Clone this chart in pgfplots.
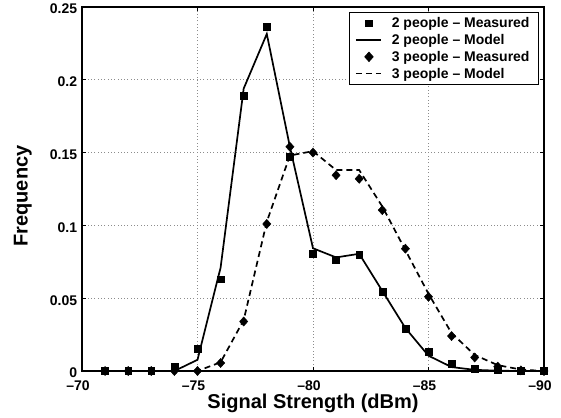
\documentclass[border=0pt]{standalone}
\usepackage{fontspec}
\setmainfont{Liberation Sans}
\usepackage{pgfplots}
\pgfplotsset{compat=1.18}
\usepackage{pgfplotstable}

\pgfplotstableread{
x y
-71 0
-72 0
-73 0
-74 0.003
-75 0.0153
-76 0.063
-77 0.189
-78 0.2365
-79 0.147
-80 0.0803
-81 0.0767
-82 0.0797
-83 0.0543
-84 0.0288
-85 0.0134
-86 0.005
-87 0.0014
-88 0.0005
-89 0.0002
-90 0
}\twomeas

\pgfplotstableread{
x y
-71 0
-72 0
-73 0
-74 0
-75 0.0077
-76 0.071
-77 0.194
-78 0.2315
-79 0.154
-80 0.0843
-81 0.078
-82 0.0805
-83 0.055
-84 0.0295
-85 0.0105
-86 0.0027
-87 0.0008
-88 0.0002
-89 0
-90 0
}\twomodel

\pgfplotstableread{
x y
-71 0
-72 0
-73 0
-74 0
-75 0
-76 0.0055
-77 0.034
-78 0.101
-79 0.154
-80 0.150
-81 0.1345
-82 0.132
-83 0.1105
-84 0.084
-85 0.051
-86 0.024
-87 0.0093
-88 0.003
-89 0.0004
-90 0
}\threemeas

\pgfplotstableread{
x y
-71 0
-72 0
-73 0
-74 0
-75 0
-76 0.006
-77 0.035
-78 0.1025
-79 0.148
-80 0.151
-81 0.138
-82 0.138
-83 0.113
-84 0.083
-85 0.053
-86 0.026
-87 0.011
-88 0.004
-89 0.001
-90 0
}\threemodel

\begin{document}
\begin{tikzpicture}
\useasboundingbox (-82pt,-46pt) rectangle (479pt,371pt);
\begin{axis}[
  at={(0,0)}, anchor=south west,
  scale only axis, width=462pt, height=364pt,
  x dir=reverse,
  xmin=-90, xmax=-70, ymin=0, ymax=0.25,
  xtick={-70,-75,-80,-85,-90},
  xticklabels={–70,–75,–80,–85,–90},
  ytick={0,0.05,0.1,0.15,0.2,0.25},
  yticklabels={0,0.05,0.1,0.15,0.2,0.25},
  tick pos=both, tick align=inside, major tick length=4pt,
  tick style={line width=0.8pt, black},
  axis line style={line width=1.4pt},
  grid=major,
  major grid style={line width=0.7pt, gray!90, dash pattern=on 0.7pt off 2.6pt},
  ticklabel style={font=\bfseries\fontsize{14}{14}\selectfont, inner sep=0pt},
  xticklabel style={yshift=-9.4pt, xshift=-4pt},
  yticklabel style={xshift=-4.7pt, yshift=-2pt},
  xlabel={Signal Strength (dBm)},
  label style={font=\bfseries\fontsize{20}{20}\selectfont, inner sep=0pt},
  xlabel style={at={(rel axis cs:0.5,0)}, anchor=base, yshift=-37pt},
  legend image code/.code={\draw[mark repeat=2,mark phase=2] plot coordinates {(0pt,0pt)(13pt,0pt)(25pt,0pt)};},
  legend style={at={(rel axis cs:1,1)}, anchor=north east, xshift=-5.3pt, yshift=-5pt,
    draw=black, line width=0.9pt, inner xsep=5.3pt, inner ysep=4pt,
    font=\bfseries\fontsize{14}{14}\selectfont,
    nodes={inner sep=0pt, text height=11.5pt, text depth=2.5pt},
    row sep=2.7pt, column sep=0pt,
    /tikz/every odd column/.append style={column sep=10pt}},
  legend cell align=left,
]
\coordinate (ylab) at (rel axis cs:0,0.5);
\addplot[only marks, mark=square*, mark size=3.4pt, black] table {\twomeas};
\addlegendentry{2 people -- Measured\hspace*{3.4pt}}
\addplot[line width=1.7pt, black, no marks] table {\twomodel};
\addlegendentry{2 people -- Model}
\addplot[only marks, mark=diamond*, mark size=4.6pt, mark options={xscale=1.2}, black] table {\threemeas};
\addlegendentry{3 people -- Measured}
\addplot[line width=1.7pt, black, no marks, dash pattern=on 6pt off 4pt] table {\threemodel};
\addlegendentry{3 people -- Model}
\end{axis}
\node[rotate=90, anchor=south, inner sep=0pt, font=\bfseries\fontsize{20}{20}\selectfont]
  at ([xshift=-50pt,yshift=-7pt]ylab) {Frequency};
\end{tikzpicture}
\end{document}
